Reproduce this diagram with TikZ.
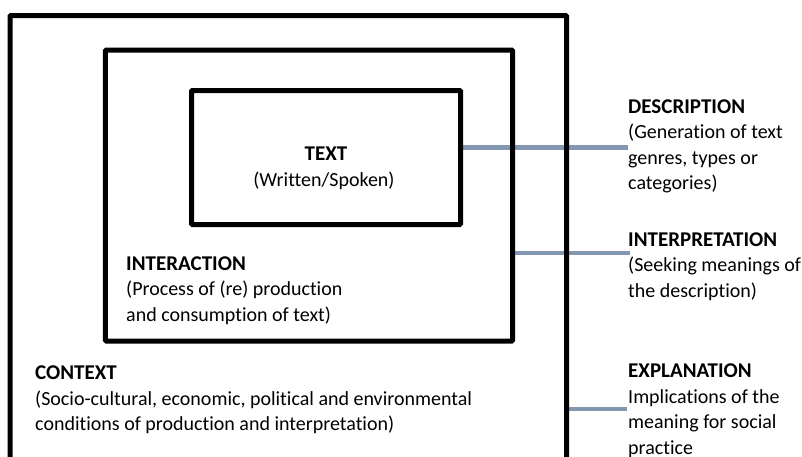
\documentclass[tikz,border=0pt]{standalone}
\usepackage{fontspec}
\setmainfont[Ligatures=NoCommon]{Carlito}
\usetikzlibrary{backgrounds}
\definecolor{linkgray}{HTML}{8497B0}
\newcommand{\ttl}[1]{{\fontsize{21}{25.4}\selectfont\bfseries #1}}
\begin{document}
\begin{tikzpicture}[x=1pt,y=-1pt,
  box/.style={draw=black,line width=5pt,rounded corners=1pt,inner sep=0pt,outer sep=0pt,anchor=north west},
  link/.style={draw=linkgray,line width=4.5pt},
  lbl/.style={anchor=base west,align=left,inner sep=0pt,font=\fontsize{20}{25.4}\selectfont},
  ]
\useasboundingbox (0,0) rectangle (802,456);
\clip (0,0) rectangle (802,456);
\node[box,minimum width=556.5pt,minimum height=446.5pt] (outer) at (10,15.5) {};
\node[box,minimum width=407.2pt,minimum height=291pt] (middle) at (105.3,50) {};
\node[box,minimum width=269pt,minimum height=134pt] (inner) at (191.5,90.5) {};

\coordinate (d1) at (628,147.7);
\coordinate (d2) at (630,253);
\coordinate (d3) at (627,409);
\begin{scope}[on background layer]
\draw[link] (inner.east |- d1) -- (d1);
\draw[link] (middle.east |- d2) -- (d2);
\draw[link] (outer.east |- d3) -- (d3);
\end{scope}

\node[anchor=base,inner sep=0pt] (t1) at (326,160.7) {\ttl{TEXT}};
\node[anchor=base,inner sep=0pt,font=\fontsize{20}{25.4}\selectfont] (t2) at (324,186.7) {(Written/Spoken)};

% base anchor = baseline of the last line
\node[lbl] (interaction) at (126,321.3) {\ttl{INTERACTION}\\(Process of (re) production\\and consumption of text)};
\node[lbl] (context) at (35,430.5) {\ttl{CONTEXT}\\(Socio-cultural, economic, political and environmental\\conditions of production and interpretation)};

\node[lbl] (description) at (628,189.5) {\ttl{DESCRIPTION}\\(Generation of text\\genres, types or\\categories)};
\node[lbl] (interpretation) at (628,297.2) {\ttl{INTERPRETATION}\\(Seeking meanings of\\the description)};
\node[lbl] (explanation) at (628,454) {\ttl{EXPLANATION}\\Implications of the\\meaning for social\\practice};
\end{tikzpicture}
\end{document}
